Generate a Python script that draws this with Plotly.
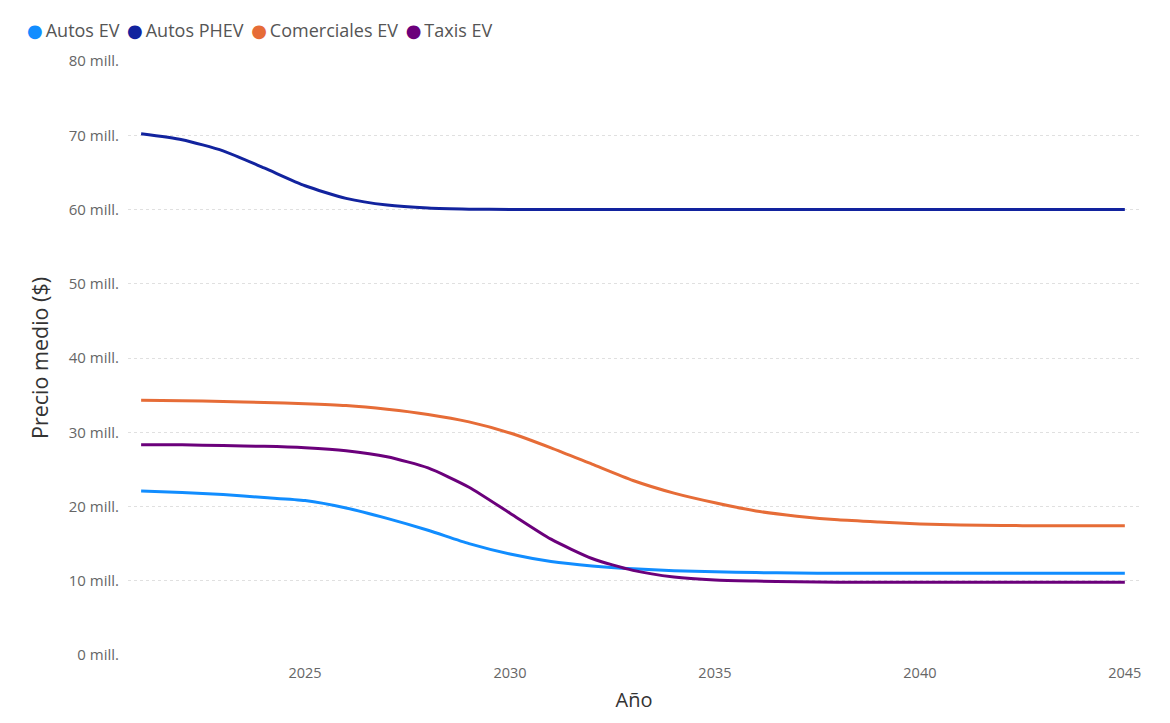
import plotly.graph_objects as go

# Años
years = list(range(2021, 2046))

# Precio medio (millones de $)
autos_ev = [22.1, 21.9, 21.6, 21.2, 20.8, 19.8, 18.4, 16.8, 15.0, 13.6, 12.6, 12.0, 11.6, 11.35, 11.2, 11.1, 11.05, 11.0, 11.0,
            11.0, 11.0, 11.0, 11.0, 11.0, 11.0]
autos_phev = [70.2, 69.4, 67.9, 65.6, 63.2, 61.5, 60.6, 60.2, 60.05, 60.0, 60.0, 60.0, 60.0, 60.0, 60.0, 60.0, 60.0, 60.0, 60.0,
              60.0, 60.0, 60.0, 60.0, 60.0, 60.0]
comerciales_ev = [34.3, 34.25, 34.15, 34.0, 33.85, 33.6, 33.1, 32.4, 31.4, 29.9, 27.9, 25.7, 23.5, 21.8, 20.5, 19.4, 18.7, 18.2,
                  17.9, 17.65, 17.5, 17.45, 17.4, 17.4, 17.4]
taxis_ev = [28.3, 28.3, 28.2, 28.1, 27.9, 27.5, 26.7, 25.2, 22.6, 19.1, 15.6, 13.0, 11.4, 10.5, 10.1, 9.95, 9.85, 9.8, 9.8,
            9.8, 9.8, 9.8, 9.8, 9.8, 9.8]

series_names = ["Autos EV", "Autos PHEV", "Comerciales EV", "Taxis EV"]
series_values = [autos_ev, autos_phev, comerciales_ev, taxis_ev]
series_colors = ["#118DFF", "#12239E", "#E66C37", "#6B007B"]

y_ticks = [0, 10, 20, 30, 40, 50, 60, 70, 80]
y_ticktext = [f"{v} mill." for v in y_ticks]
x_ticks = [2025, 2030, 2035, 2040, 2045]

FONT = "Segoe UI, Open Sans, DejaVu Sans, sans-serif"
GRAY = "#666666"

fig = go.Figure()
for name, vals, col in zip(series_names, series_values, series_colors):
    fig.add_trace(go.Scatter(x=years, y=vals, name=name, mode="lines",
                             line=dict(color=col, width=3, shape="spline", smoothing=0.6),
                             showlegend=False))

# leyenda compacta con puntos, estilo Power BI
legend_text = " \u2009".join(f"<span style='color:{c}'>●</span>\u2009{n}" for n, c in zip(series_names, series_colors))
fig.add_annotation(text=legend_text, xref="paper", yref="paper", x=-0.102, y=1.052,
                   xanchor="left", yanchor="middle", showarrow=False,
                   font=dict(family=FONT, size=18, color="#555555"))

# la página añade 8 px de margen al cuerpo: se compensa en tamaño y márgenes
fig.update_layout(
    width=1162, height=715,
    paper_bgcolor="white", plot_bgcolor="white",
    margin=dict(l=120, r=30, t=53, b=68, autoexpand=False),
    font=dict(family=FONT, color=GRAY, size=14),
    showlegend=False,
    xaxis=dict(range=[2020.68, 2045.37], tickvals=x_ticks, showgrid=False, zeroline=False,
               showline=False, ticks="", ticklabelstandoff=7, tickfont=dict(size=14.5, color=GRAY),
               title=dict(text="Año", font=dict(size=20, color="#333333"), standoff=12)),
    yaxis=dict(range=[0, 80], tickvals=y_ticks, ticktext=y_ticktext, showgrid=True,
               gridcolor="#E0E0E0", griddash="dot", gridwidth=1, zeroline=False,
               showline=False, ticks="", ticklabelstandoff=8, tickfont=dict(size=15, color=GRAY),
               title=dict(text="Precio medio ($)", font=dict(size=21.5, color="#333333"), standoff=14)),
)

fig.write_html("out.html")
